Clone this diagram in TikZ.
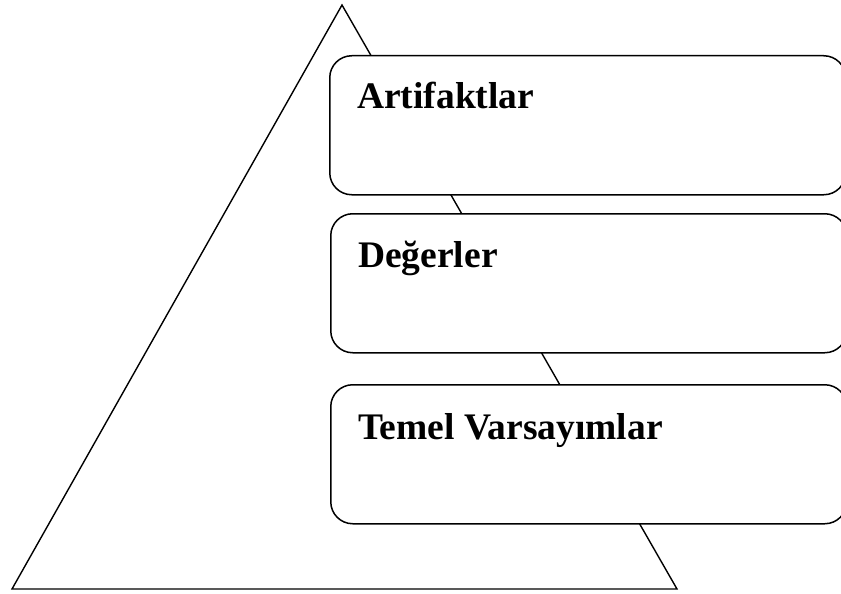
\documentclass[tikz,border=0pt]{standalone}
\usepackage{fontspec}
\setmainfont{Liberation Serif}
\usepackage{tikz}
\usetikzlibrary{calc}

\begin{document}
\begin{tikzpicture}[x=1pt,y=-1pt,
lvl/.style={draw, line width=1.5pt, rounded corners=22pt, fill=white, minimum width=516pt, minimum height=139pt, anchor=north west, inner sep=0},
lvltxt/.style={anchor=base west, font=\fontsize{37.5}{40}\selectfont\bfseries, inner sep=0}]
	\useasboundingbox (0,0) rectangle (841,594);
	\clip (0,0) rectangle (841,594);
	\coordinate (apex) at (342,5);
	\coordinate (bl) at (12,589);
	\coordinate (br) at (677,589);
	\draw[line width=1.4pt, line join=miter] (apex) -- (bl) -- (br) -- cycle;

	\node[lvl] at (329,55) (art) {};
	\node[lvl] at (330,213) (deg) {};
	\node[lvl] at (330,384) (tem) {};
	\node[lvltxt] at ([xshift=28pt,yshift=-53pt]art.north west) (arttxt) {Artifaktlar};
	\node[lvltxt] at ([xshift=28pt,yshift=-54pt]deg.north west) (degtxt) {Değerler};
	\node[lvltxt] at ([xshift=28pt,yshift=-55pt]tem.north west) (temtxt) {Temel Varsayımlar};
\end{tikzpicture}
\end{document}
